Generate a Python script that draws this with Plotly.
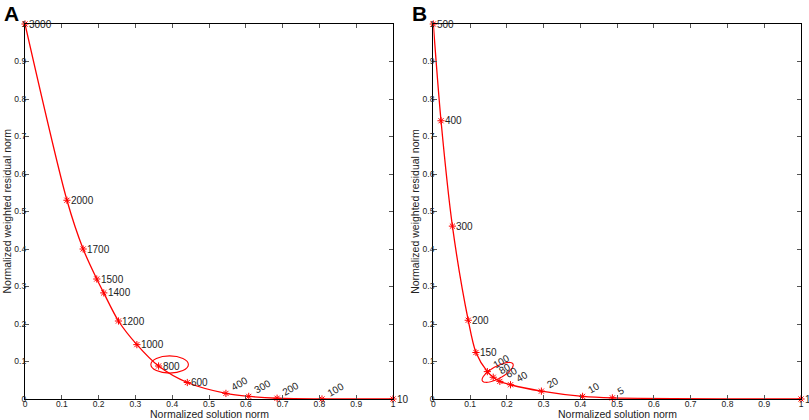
import numpy as np
import plotly.graph_objects as go

# Panel A: L-curve for regularisation values 3000 ... 10
a_labels = ["3000", "2000", "1700", "1500", "1400", "1200", "1000", "800",
            "600", "400", "300", "200", "100", "10"]
a_x = [0.0, 0.114, 0.158, 0.195, 0.214, 0.254, 0.304, 0.363,
       0.441, 0.546, 0.608, 0.685, 0.807, 1.0]
a_y = [1.0, 0.530, 0.400, 0.320, 0.283, 0.208, 0.145, 0.088,
       0.044, 0.015, 0.007, 0.002, 0.0, 0.0]

# Panel B: L-curve for 500 ... 1
b_labels = ["500", "400", "300", "200", "150", "100", "80", "60",
            "40", "20", "10", "5", "1"]
b_x = [0.0, 0.021, 0.052, 0.095, 0.116, 0.147, 0.163, 0.181,
       0.210, 0.294, 0.406, 0.487, 1.0]
b_y = [1.0, 0.742, 0.461, 0.210, 0.124, 0.073, 0.058, 0.047,
       0.038, 0.021, 0.007, 0.003, 0.0]

# which point labels are drawn tilted, and which point is circled
A_TILTED = {"400", "300", "200", "100"}
B_TILTED = {"100", "80", "60", "40", "20", "10", "5"}
A_PICK = "800"
B_PICK = "80"

X_TITLE = "Normalized solution norm"
Y_TITLE = "Normalized weighted residual norm"

FONT = "Liberation Sans, Arial, sans-serif"
RED = "#ff0000"
INK = "#222"
W, H = 809, 420
DOM_A = [25 / W, 393 / W]
DOM_B = [433.3 / W, 801 / W]
DOM_Y = [21 / H, 396 / H]

fig = go.Figure()


def add_panel(xs, ys, labels, tilted, xa, ya):
    fig.add_trace(go.Scatter(
        x=xs, y=ys, mode="lines+markers", xaxis=xa, yaxis=ya,
        line=dict(color=RED, width=1.3, shape="spline", smoothing=0.8),
        marker=dict(symbol="asterisk-open", size=6,
                    line=dict(color=RED, width=1)),
        cliponaxis=False, showlegend=False, hoverinfo="skip"))
    for x, y, t in zip(xs, ys, labels):
        if t in tilted:
            fig.add_annotation(x=x, y=y, xref=xa, yref=ya, text=t,
                               showarrow=False, textangle=-30,
                               xanchor="left", yanchor="bottom",
                               xshift=1, yshift=-2,
                               font=dict(family=FONT, size=10, color=INK))
        else:
            fig.add_annotation(x=x, y=y, xref=xa, yref=ya, text=t,
                               showarrow=False, xanchor="left",
                               yanchor="middle", xshift=2,
                               font=dict(family=FONT, size=10, color=INK))


add_panel(a_x, a_y, a_labels, A_TILTED, "x", "y")
add_panel(b_x, b_y, b_labels, B_TILTED, "x2", "y2")

# ellipse around the chosen point in A
i = a_labels.index(A_PICK)
cx, cy = a_x[i] + 0.03, a_y[i] + 0.004
fig.add_shape(type="circle", xref="x", yref="y",
              x0=cx - 0.051, x1=cx + 0.051, y0=cy - 0.023, y1=cy + 0.023,
              line=dict(color=RED, width=1.1))

# tilted ellipse around the chosen point in B (semi-axes in px)
j = b_labels.index(B_PICK)
cx, cy = b_x[j] + 0.012, b_y[j] + 0.013
t = np.linspace(0, 2 * np.pi, 60)
ang = np.deg2rad(29)
px = 17.5 * np.cos(t) * np.cos(ang) - 6 * np.sin(t) * np.sin(ang)
py = 17.5 * np.cos(t) * np.sin(ang) + 6 * np.sin(t) * np.cos(ang)
ex, ey = cx + px / 368, cy + py / 375
path = "M " + " L ".join(f"{u:.5f},{v:.5f}" for u, v in zip(ex, ey)) + " Z"
fig.add_shape(type="path", xref="x2", yref="y2", path=path,
              line=dict(color=RED, width=1.1))

axis = dict(range=[0, 1], dtick=0.1, tick0=0, showline=True, linecolor="black",
            linewidth=1.3, mirror="ticks", ticks="inside", ticklen=4,
            tickcolor="#555", showgrid=False, zeroline=False, automargin=False,
            tickfont=dict(family=FONT, size=8.5, color=INK))

fig.update_layout(
    width=W, height=H, margin=dict(l=0, r=0, t=0, b=0),
    paper_bgcolor="white", plot_bgcolor="white",
    xaxis=dict(axis, domain=DOM_A, anchor="y", ticklabelstandoff=-3),
    yaxis=dict(axis, domain=DOM_Y, anchor="x", ticklabelstandoff=-4),
    xaxis2=dict(axis, domain=DOM_B, anchor="y2", ticklabelstandoff=-3),
    yaxis2=dict(axis, domain=DOM_Y, anchor="x2", ticklabelstandoff=-4),
)

# axis titles placed as paper annotations for exact positioning
for dom in (DOM_A, DOM_B):
    fig.add_annotation(x=(dom[0] + dom[1]) / 2, y=6 / H, xref="paper",
                       yref="paper", text=X_TITLE, showarrow=False,
                       xanchor="center", yanchor="middle",
                       font=dict(family=FONT, size=10.5, color=INK))
    fig.add_annotation(x=dom[0] - 19 / W, y=(DOM_Y[0] + DOM_Y[1]) / 2,
                       xref="paper", yref="paper", text=Y_TITLE,
                       showarrow=False, textangle=-90,
                       xanchor="center", yanchor="middle",
                       font=dict(family=FONT, size=10.5, color=INK))

for letter, xp in [("A", 2 / W), ("B", 410 / W)]:
    fig.add_annotation(x=xp, y=1.0, xref="paper", yref="paper",
                       text=f"<b>{letter}</b>", showarrow=False,
                       xanchor="left", yanchor="top",
                       font=dict(family=FONT, size=21, color="black"))

fig.write_html("out.html", config={"displayModeBar": False},
               post_script="document.body.style.margin='0';")
